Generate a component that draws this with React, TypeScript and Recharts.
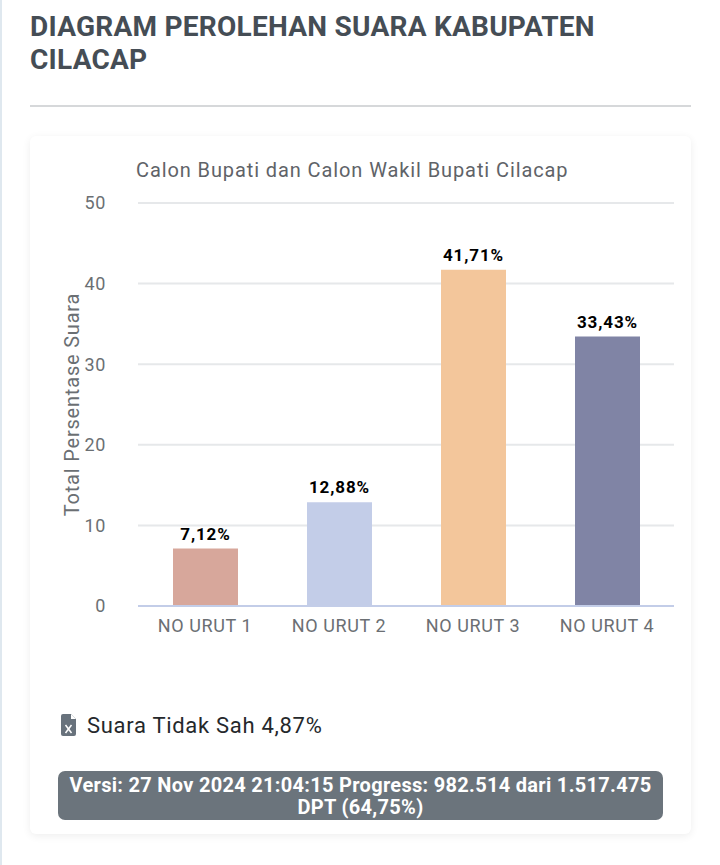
import { BarChart, Bar, XAxis, YAxis, CartesianGrid, Cell, LabelList } from 'recharts';

const CATEGORIES = ['NO URUT 1', 'NO URUT 2', 'NO URUT 3', 'NO URUT 4'];
const VOTES = [7.12, 12.88, 41.71, 33.43];
const VOTE_LABELS = ['7,12%', '12,88%', '41,71%', '33,43%'];
const COLORS = ['#d7a79b', '#c3cde8', '#f3c69b', '#8084a5'];
const Y_TICKS = [0, 10, 20, 30, 40, 50];

const chartData = CATEGORIES.map((name, i) => ({ name, votes: VOTES[i], label: VOTE_LABELS[i] }));

const FONT = 'Roboto, sans-serif';

export default function App() {
  return (
    <div style={{ position: 'absolute', left: 0, top: 0, width: 720, height: 865, background: '#fff', overflow: 'hidden', fontFamily: FONT }}>
      <div style={{ position: 'absolute', left: 0, top: 0, width: 2, height: 865, background: '#dfe8ef' }} />
      <div style={{ position: 'absolute', left: 30, top: 10, width: 660, fontSize: 28, lineHeight: '33px', fontWeight: 700, color: '#454d55', letterSpacing: 0.25 }}>
        DIAGRAM PEROLEHAN SUARA KABUPATEN CILACAP
      </div>
      <div style={{ position: 'absolute', left: 30, top: 105, width: 661, height: 2, background: '#d6d8da' }} />
      <div style={{ position: 'absolute', left: 30, top: 136, width: 661, height: 698, background: '#fff', borderRadius: 6, boxShadow: '0 2px 8px rgba(0,0,0,0.07)' }} />

      <div style={{ position: 'absolute', left: 0, top: 0 }}>
        <BarChart
          width={720}
          height={660}
          data={chartData}
          margin={{ top: 203, right: 46, bottom: 24, left: 48 }}
          barCategoryGap="25%"
        >
          <text x={136} y={177} fontFamily={FONT} fontSize={20} letterSpacing={0.9} fill="#5f6368">
            Calon Bupati dan Calon Wakil Bupati Cilacap
          </text>
          <CartesianGrid vertical={false} stroke="#e6e8ea" strokeWidth={2} />
          <XAxis
            dataKey="name"
            height={30}
            tickLine={false}
            axisLine={{ stroke: '#c3cde8', strokeWidth: 2 }}
            tick={{ fill: '#6b6f73', fontSize: 18, fontFamily: FONT, letterSpacing: 0.6 }}
            tickMargin={7}
          />
          <YAxis
            width={90}
            domain={[0, 50]}
            ticks={Y_TICKS}
            tickLine={false}
            axisLine={false}
            tick={{ fill: '#6b6f73', fontSize: 18, fontFamily: FONT, letterSpacing: 0.6 }}
            tickMargin={26}
            label={{
              value: 'Total Persentase Suara',
              angle: -90,
              position: 'insideLeft',
              offset: 24,
              style: { textAnchor: 'middle', fill: '#6b6f73', fontSize: 20, fontFamily: FONT, letterSpacing: 0.8 },
            }}
          />
          <Bar dataKey="votes" barSize={65} isAnimationActive={false}>
            {chartData.map((d, i) => (
              <Cell key={d.name} fill={COLORS[i]} />
            ))}
            <LabelList
              dataKey="label"
              position="top"
              offset={9}
              style={{ fill: '#000', fontSize: 17, fontWeight: 700, fontFamily: FONT, letterSpacing: 0.9 }}
            />
          </Bar>
        </BarChart>
      </div>

      <svg style={{ position: 'absolute', left: 60, top: 713 }} width={18} height={24} viewBox="0 0 18 24">
        <path d="M3 1 H11 L16 6 V21 Q16 23 14 23 H3 Q1 23 1 21 V3 Q1 1 3 1 Z" fill="#68727c" />
        <path d="M11 1 L16 6 H11 Z" fill="#fff" />
        <path d="M5.5 12 L11.5 20 M11.5 12 L5.5 20" stroke="#fff" strokeWidth={1.5} />
      </svg>
      <div style={{ position: 'absolute', left: 87, top: 712, fontSize: 22, lineHeight: '28px', color: '#25282b', letterSpacing: 0.7 }}>
        Suara Tidak Sah 4,87%
      </div>

      <div style={{ position: 'absolute', left: 58, top: 771, width: 605, height: 49, background: '#6b747c', borderRadius: 7, color: '#fff', fontSize: 20, lineHeight: '22px', fontWeight: 700, textAlign: 'center', paddingTop: 3, boxSizing: 'border-box', letterSpacing: 0.3 }}>
        Versi: 27 Nov 2024 21:04:15 Progress: 982.514 dari 1.517.475 DPT (64,75%)
      </div>
    </div>
  );
}
